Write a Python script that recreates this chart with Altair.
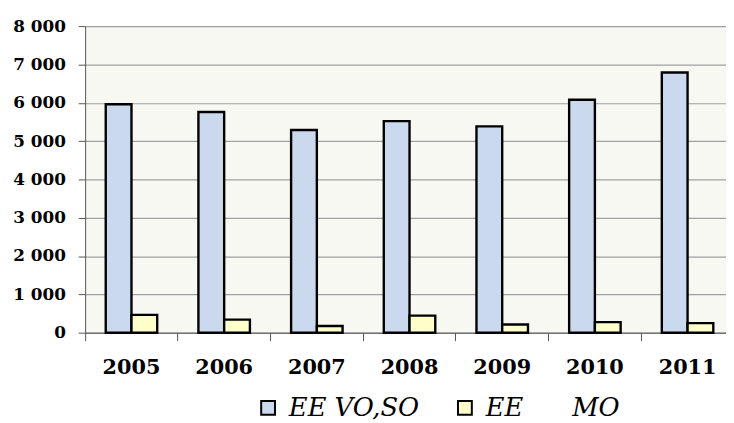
import altair as alt
import pandas as pd

years = ["2005", "2006", "2007", "2008", "2009", "2010", "2011"]
vo_so = [5960, 5760, 5290, 5520, 5385, 6080, 6790]
mo = [465, 340, 175, 445, 215, 275, 250]
series = ["EE VO,SO", "EE" + "\u00a0" * 6 + "MO"]
colors = ["#cbd9ee", "#ffffcc"]

rows = []
for y, a, b in zip(years, vo_so, mo):
    rows.append({"year": y, "series": series[0], "value": a})
    rows.append({"year": y, "series": series[1], "value": b})
df = pd.DataFrame(rows)

font = "DejaVu Serif"

chart = alt.Chart(df).mark_bar(stroke="black", strokeWidth=2.4).encode(
    x=alt.X("year:N", title=None,
            scale=alt.Scale(paddingInner=0, paddingOuter=0, range=[0, 656]),
            axis=alt.Axis(bandPosition=0, labelAngle=0, labelFont=font, labelFontSize=21,
                          labelFontWeight="bold", labelColor="black", tickSize=8,
                          tickColor="#555", domainColor="#555", labelBaseline="alphabetic",
                          labelPadding=33, grid=False)),
    xOffset=alt.XOffset("series:N", sort=series,
                        scale=alt.Scale(paddingInner=0, paddingOuter=0.8)),
    y=alt.Y("value:Q", title=None,
            scale=alt.Scale(domain=[0, 8000], nice=False),
            axis=alt.Axis(values=list(range(0, 8001, 1000)),
                          labelExpr="replace(format(datum.value, ','), ',', ' ')",
                          labelFont=font, labelFontSize=17, labelFontWeight="bold",
                          labelColor="black", tickSize=7, tickColor="#555",
                          domainColor="#555", labelPadding=13,
                          gridColor="#a0a0a0", gridWidth=1.2)),
    fill=alt.Fill("series:N", sort=series,
                  scale=alt.Scale(domain=series, range=colors),
                  legend=alt.Legend(title=None, orient="none", legendX=172, legendY=373,
                                    direction="horizontal", symbolType="square",
                                    symbolSize=196, symbolStrokeColor="black",
                                    symbolStrokeWidth=2, labelFont=font, labelFontSize=26,
                                    labelFontStyle="italic", labelColor="black",
                                    labelOffset=8, columnPadding=33, padding=0,
                                    labelLimit=400)),
).properties(
    width=648, height=310,
    autosize=alt.AutoSizeParams(type="none"),
    padding={"left": 78, "top": 16, "right": 0, "bottom": 89},
).configure_view(
    fill="#f8f8f3", stroke=None
)

chart.save("out.html", embed_options={"renderer": "svg", "actions": False})
